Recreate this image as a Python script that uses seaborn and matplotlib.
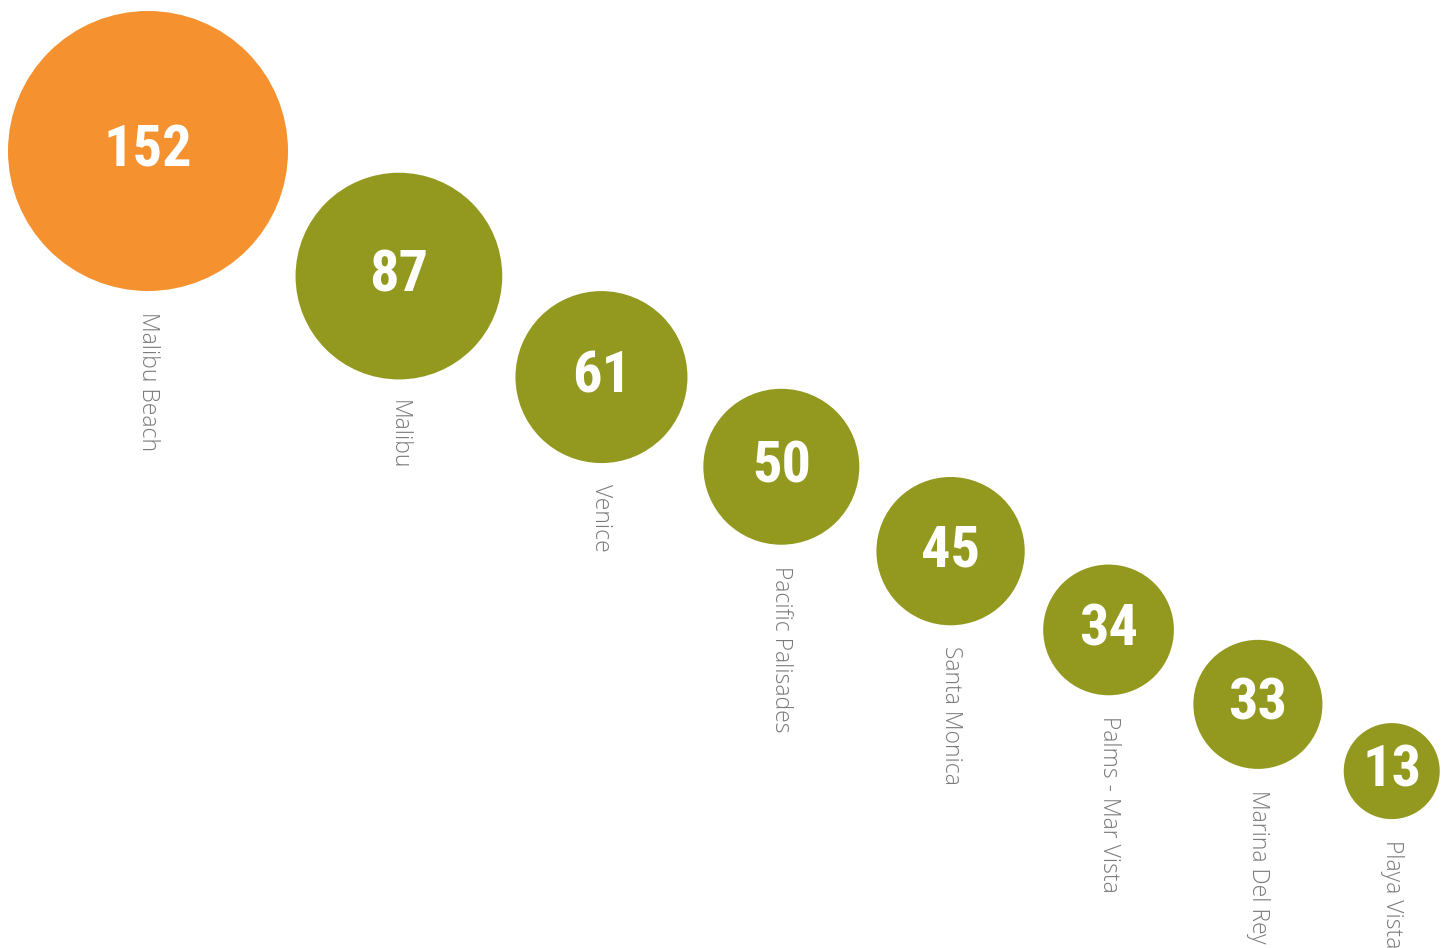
import numpy as np
import pandas as pd
import matplotlib
matplotlib.use("Agg")
import matplotlib.pyplot as plt
import matplotlib.colors as mcolors
import seaborn as sns

# Neighbourhood counts, largest first
neighborhoods = ["Malibu Beach", "Malibu", "Venice", "Pacific Palisades",
                 "Santa Monica", "Palms - Mar Vista", "Marina Del Rey", "Playa Vista"]
counts = [152, 87, 61, 50, 45, 34, 33, 13]

ORANGE = "#F5912F"
OLIVE = "#93991F"
LABEL_GREY = "#7A7A7A"

W, H, DPI = 1443, 948, 100
sns.set_theme(style="white")

df = pd.DataFrame({"name": neighborhoods, "value": counts})
df["group"] = np.where(df["value"] == df["value"].max(), "top", "other")

# Bubble area scale (points^2), shared by the scatter and the layout below
size_range = (4778.0, 40643.0)
size_norm = mcolors.PowerNorm(gamma=1.15, vmin=min(counts), vmax=max(counts))
area_pt = size_range[0] + np.asarray(size_norm(df["value"].to_numpy())) * (size_range[1] - size_range[0])
radius_px = np.sqrt(area_pt) * DPI / 72.0 / 2.0

# Chain the bubbles along a diagonal, each separated by a fixed gap
angle = np.deg2rad(26.5)
gap = 37.0
xs, ys = [radius_px[0] + 8.0], [radius_px[0] + 11.0]
for i in range(1, len(radius_px)):
    step = radius_px[i - 1] + radius_px[i] + gap
    xs.append(xs[-1] + step * np.cos(angle))
    ys.append(ys[-1] + step * np.sin(angle))
df["x"] = xs
df["y"] = ys

fig = plt.figure(figsize=(W / DPI, H / DPI), dpi=DPI)
ax = fig.add_axes([0, 0, 1, 1])

sns.scatterplot(data=df, x="x", y="y", size="value", sizes=size_range,
                size_norm=size_norm, hue="group",
                palette={"top": ORANGE, "other": OLIVE},
                linewidth=0, alpha=1, legend=False, ax=ax)

number_fonts = ["Roboto Condensed", "Liberation Sans Narrow", "Roboto", "DejaVu Sans"]
for (_, row), r in zip(df.iterrows(), radius_px):
    ax.text(row["x"], row["y"], f"{row['value']}", ha="center", va="center",
            color="white", fontsize=42, fontweight="bold", family=number_fonts)
    ax.text(row["x"], row["y"] + r + 21, row["name"], ha="center", va="top",
            rotation=270, color=LABEL_GREY, fontsize=16.5, fontweight="light",
            family=["Open Sans", "DejaVu Sans"])

ax.set_xlim(0, W)
ax.set_ylim(H, 0)
ax.set_axis_off()

fig.savefig("out.png", dpi=DPI, facecolor="white")
